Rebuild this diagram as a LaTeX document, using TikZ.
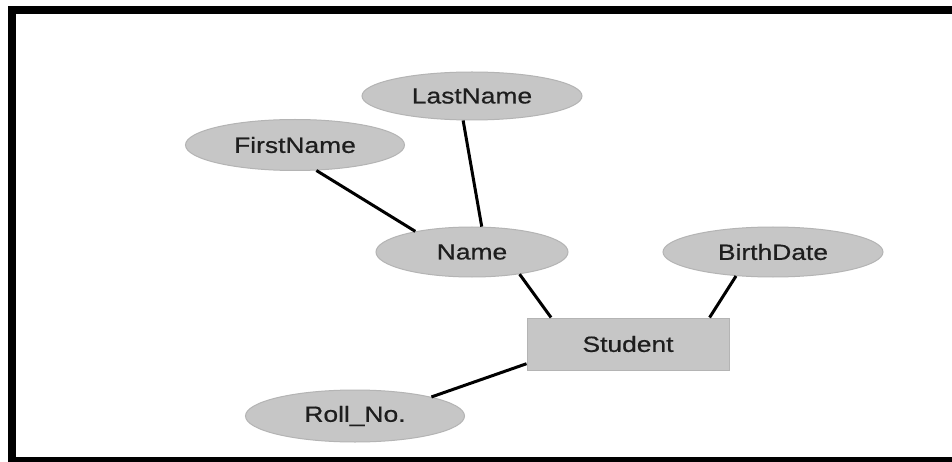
\documentclass[tikz,border=0pt]{standalone}
\usepackage{fontspec}
\setmainfont{Liberation Sans}[FakeStretch=1.2,FakeBold=0.6]
\usetikzlibrary{shapes.geometric}
\definecolor{attrfill}{RGB}{198,198,198}
\definecolor{attredge}{RGB}{180,180,180}
\definecolor{txt}{RGB}{30,30,30}
\tikzset{
  attr/.style={ellipse, fill=attrfill, draw=attredge, line width=1pt, inner sep=0pt,
    text=txt, font=\fontsize{22}{26}\selectfont},
  entity/.style={rectangle, fill=attrfill, draw=attredge, line width=1pt, inner sep=0pt,
    text=txt, font=\fontsize{22}{26}\selectfont},
  link/.style={line width=3pt, black}
}
\begin{document}
\begin{tikzpicture}[x=1pt,y=-1pt]
\useasboundingbox (0,0) rectangle (952,462);
\fill[white] (0,0) rectangle (952,462);
% frame
\fill[black] (8,6) rectangle (952,14);
\fill[black] (8,6) rectangle (16,462);
\fill[black] (8,457) rectangle (952,462);
% nodes
\node[attr, minimum width=220pt, minimum height=48pt] (lastname) at (472,96) {LastName};
\node[attr, minimum width=219pt, minimum height=51pt] (firstname) at (295,145) {FirstName};
\node[attr, minimum width=192pt, minimum height=50pt] (name) at (472,252) {Name};
\node[attr, minimum width=220pt, minimum height=50pt] (birthdate) at (773,252) {BirthDate};
\node[entity, minimum width=202pt, minimum height=52pt] (student) at (628,344) {Student};
\node[attr, minimum width=219pt, minimum height=52pt] (rollno) at (355,416) {Roll\_No.};
% connectors
\draw[link] (firstname.-50) -- (name.160);
\draw[link] (lastname.-110.6) -- (name.69);
\draw[link] (name.-25) -- (student.161.8);
\draw[link] (birthdate.-147.4) -- (student.18.4);
\draw[link] (student.-169.2) -- (rollno.14.2);
\end{tikzpicture}
\end{document}
